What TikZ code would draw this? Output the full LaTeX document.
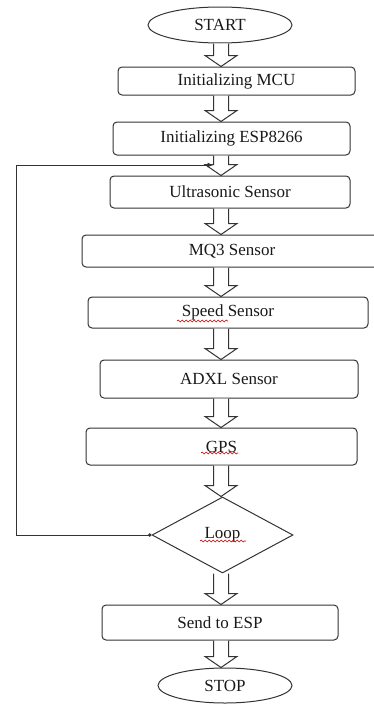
\documentclass[tikz,border=0pt]{standalone}
\usepackage{fontspec}
\setmainfont{Liberation Serif}
\usetikzlibrary{arrows.meta,shapes.geometric,calc,decorations.pathmorphing}

% hollow block arrow from the bottom of #1 to the top of #2
\newcommand{\hollowdown}[2]{%
  \path (axis |- #1.south) coordinate (tail) (axis |- #2.north) coordinate (tip);
  \draw[hollow] ($(tail)+(-7.5,0)$) -- ($(tip)+(-7.5,-11)$) -- ++(-8.5,0) -- (tip)
    -- ($(tip)+(16,-11)$) -- ++(-8.5,0) -- ($(tail)+(7.5,0)$);
}

\begin{document}
\begin{tikzpicture}[x=1pt,y=-1pt,>=Latex,
    every node/.style={font=\fontsize{17}{20}\selectfont,text=black!90},
    box/.style={draw=black!80,line width=1pt,rounded corners=4pt,inner sep=0pt},
    term/.style={draw=black!80,line width=1pt,ellipse,inner sep=0pt},
    hollow/.style={draw=black!80,line width=1pt,fill=white,line join=miter},
    squiggle/.style={draw=red!75!black,line width=0.6pt,decorate,
      decoration={snake,amplitude=0.9pt,segment length=4pt}}]
  \useasboundingbox (0,0) rectangle (374,704);
  \coordinate (axis) at (221,0);

  \node[term,minimum width=144pt,minimum height=36pt] (start) at (220,25) {START};
  \node[box,minimum width=237pt,minimum height=28pt] (mcu) at (236.5,81) {Initializing MCU};
  \node[box,minimum width=237pt,minimum height=33pt] (esp) at (231.5,138.5) {Initializing ESP8266};
  \node[box,minimum width=240pt,minimum height=32pt] (ultra) at (230,192) {Ultrasonic Sensor};
  \node[box,minimum width=300pt,minimum height=32pt] (mq3) at (232,251) {MQ3 Sensor};
  \node[box,minimum width=280pt,minimum height=31pt] (speed) at (228,312.5) {Speed Sensor};
  \node[box,minimum width=258pt,minimum height=38pt] (adxl) at (229,379) {ADXL Sensor};
  \node[box,minimum width=271pt,minimum height=37pt] (gps) at (221.5,446.5) {GPS};
  \node[draw=black!80,line width=1pt,diamond,inner sep=0pt,
        minimum width=141pt,minimum height=76pt] (loop) at (222.5,535) {Loop};
  \node[box,minimum width=236pt,minimum height=35pt] (send) at (220,622.5) {Send to ESP};
  \node[term,minimum width=134pt,minimum height=35pt] (stop) at (225,685.5) {STOP};

  \hollowdown{start}{mcu}
  \hollowdown{mcu}{esp}
  \hollowdown{esp}{ultra}
  \hollowdown{ultra}{mq3}
  \hollowdown{mq3}{speed}
  \hollowdown{speed}{adxl}
  \hollowdown{adxl}{gps}
  \hollowdown{gps}{loop}
  \hollowdown{loop}{send}
  \hollowdown{send}{stop}

  % back to the sensors
  \coordinate (back) at (213.5,165);
  \draw[black!80,line width=1pt,{Circle[length=3.5pt]}-{Latex[length=6pt,width=5pt]}]
    (loop.west) -- ++(-135,0) |- (back);

  % spell-check marks
  \draw[squiggle] (177,321) -- (228,321);
  \draw[squiggle] (201,453) -- (238,453);
  \draw[squiggle] (200,541) -- (246,541);
\end{tikzpicture}
\end{document}
